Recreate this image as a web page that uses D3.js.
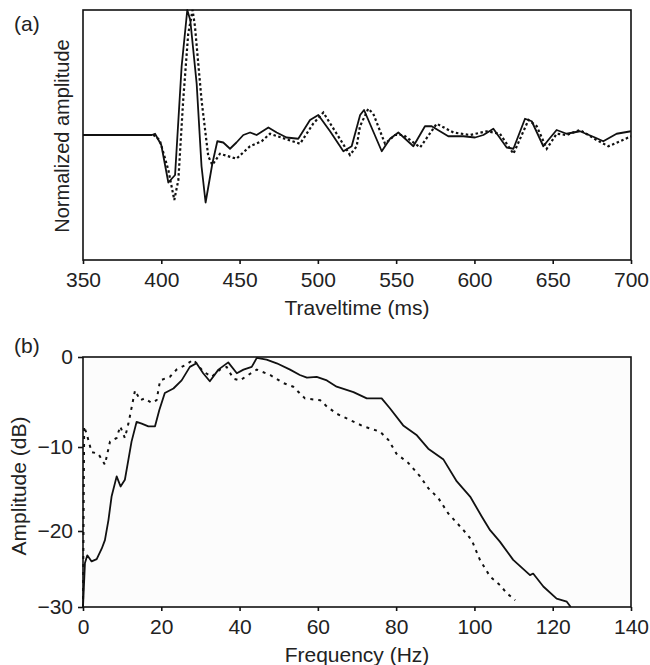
<!DOCTYPE html>
<html>
<head>
<meta charset="utf-8">
<script src="https://cdn.jsdelivr.net/npm/d3@7"></script>
<style>
  body { margin: 0; background: #fff; }
  svg { display: block; font-family: "Liberation Sans", Arial, sans-serif; }
</style>
</head>
<body>
<div id="chart"></div>
<script>
// Panel (a): traveltime (ms) vs normalized amplitude
const solidTime = [350, 394, 396, 400, 404.5, 408.8, 413, 416.6, 418.5, 422.6, 425.7, 428.3, 432.6, 435.8, 439.6, 443.9, 448, 452.4, 456.7, 460.9, 468.4, 473.7, 480, 487.5, 495, 500.3, 507.8, 516.3, 521.6, 527, 529.5, 540.8, 546.1, 551.4, 561, 568.4, 572.7, 583.3, 592.9, 600.4, 605.7, 612.1, 620.6, 624.9, 632.3, 636.6, 644, 647.2, 652.5, 658.9, 667.4, 677, 682.3, 690.8, 700];
const solidAmp  = [0, 0, 0.01, -0.08, -0.38, -0.32, 0.55, 1.0, 0.92, 0.41, -0.25, -0.54, -0.23, -0.05, -0.06, -0.11, -0.06, 0, 0.02, 0, 0.06, 0.02, -0.02, -0.03, 0.12, 0.16, 0.03, -0.13, -0.09, 0.16, 0.2, -0.13, -0.03, 0.02, -0.09, 0.07, 0.07, -0.01, -0.01, -0.02, 0, 0.05, -0.1, -0.11, 0.13, 0.11, -0.09, -0.04, 0.04, 0.01, 0.03, -0.02, -0.05, 0.01, 0.03];

const dottedTime = [350, 395, 399, 404.5, 408.3, 410.9, 414, 417.2, 420, 421.5, 425.7, 430, 432.6, 437.5, 448, 456.7, 464.1, 469.4, 479, 488.6, 497, 503.5, 512, 520.5, 524.8, 526.9, 532.2, 535.4, 542.9, 549.3, 554.6, 565.3, 575.9, 586.6, 597.2, 607.8, 616.3, 624.9, 634.5, 639.8, 646.2, 652.5, 658.9, 667.4, 678, 685.5, 693, 700];
const dottedAmp  = [0, 0, -0.04, -0.28, -0.52, -0.36, 0.28, 0.81, 1.0, 0.87, 0.28, -0.17, -0.24, -0.15, -0.19, -0.09, -0.05, 0.01, -0.03, -0.07, 0.09, 0.18, 0.01, -0.16, -0.09, 0.07, 0.21, 0.17, -0.07, 0, 0, -0.1, 0.09, 0.02, 0, 0.03, 0.01, -0.15, 0.12, 0.07, -0.11, 0.01, 0, 0.04, -0.04, -0.09, -0.05, -0.01];

const timeTicks = [350, 400, 450, 500, 550, 600, 650, 700];

// Panel (b): frequency (Hz) vs amplitude (dB)
const freqSolid = [0, 0.5, 1.1, 2.2, 3.5, 4.8, 5.6, 6.5, 7.3, 8.6, 9.6, 10.7, 11.6, 12.4, 13.7, 15, 16.7, 18.4, 19.5, 20.9, 23.1, 25.2, 27.3, 29, 30.7, 32.4, 34.6, 37.1, 39.3, 41, 43.1, 44.4, 46.9, 49.5, 52.9, 55.4, 57.2, 59.7, 62.3, 64.8, 69.1, 72.5, 76.3, 78.4, 81.8, 85.3, 88.2, 92.1, 95.5, 98.9, 101.9, 104, 106.5, 109.9, 114.2, 115, 117.6, 121, 123.6, 124.6];
const dbSolid   = [-30, -24.2, -23.2, -24, -23.7, -22.3, -21.2, -18.7, -15.9, -13.5, -14.7, -13.9, -11.5, -9.4, -7.2, -7.4, -7.7, -7.7, -5.9, -4, -3.5, -2.6, -1.1, -0.7, -1.8, -2.7, -1.4, -0.6, -1.8, -1.4, -1.1, -0.1, -0.3, -0.7, -1.4, -2.0, -2.3, -2.2, -2.6, -3.3, -3.9, -4.6, -4.6, -5.7, -7.6, -8.7, -10.2, -11.5, -14.1, -15.9, -18.3, -19.9, -21.4, -23.8, -25.8, -25.6, -27.3, -28.9, -29.3, -30];

const freqDotted = [0, 0.3, 1.1, 2.2, 3.9, 5.6, 6.9, 8.6, 9.5, 10.7, 11.6, 13.3, 14.6, 15.8, 17.5, 18.8, 19.7, 22.2, 23.9, 26.1, 28.2, 30.7, 32.9, 35, 36.7, 38.4, 40.1, 42.2, 44.4, 47.8, 51.2, 53.7, 56.7, 60.6, 62.3, 64.8, 68.2, 71.6, 75.9, 78, 80.1, 83.1, 86.1, 88.2, 90.8, 93.3, 97.2, 99.3, 101.4, 104, 106.5, 108.3, 110.4];
const dbDotted   = [-30, -7.7, -8.8, -10.6, -10.8, -12.1, -9.4, -9.0, -7.7, -9.0, -7.4, -3.7, -4.8, -4.6, -5.1, -4.8, -2.6, -2.2, -1.4, -0.9, -0.3, -1.6, -2.2, -1.4, -1.1, -2.4, -2.6, -2.0, -1.4, -2.0, -2.9, -3.3, -4.6, -4.8, -5.5, -6.3, -7.0, -7.7, -8.3, -9.2, -10.8, -11.9, -13.5, -14.9, -16.1, -17.9, -19.9, -21.2, -23.8, -26.0, -27.1, -28.2, -29.1];

const freqTicks = [0, 20, 40, 60, 80, 100, 120, 140];
const dbTicks = [0, -10, -20, -30];

const W = 650, H = 665;
const svg = d3.select('#chart').append('svg')
    .attr('width', W)
    .attr('height', H);

const left = 83, right = 631;
const fontSize = 21;

// ---- panel (a) ----
const topA = 10, botA = 260;

const xA = d3.scaleLinear().domain([350, 700]).range([left, right]);
const yA = d3.scaleLinear().domain([-1, 1]).range([botA, topA]);

const gA = svg.append('g');

gA.append('rect')
    .attr('x', left).attr('y', topA)
    .attr('width', right - left).attr('height', botA - topA)
    .attr('fill', '#fff');

const lineA = (xs, ys) => d3.line()
    .x((d, i) => xA(xs[i]))
    .y(d => yA(d))(ys);

gA.append('path')
    .attr('d', lineA(dottedTime, dottedAmp))
    .attr('fill', 'none')
    .attr('stroke', '#111')
    .attr('stroke-width', 2.2)
    .attr('stroke-dasharray', '2.5,2.5');

gA.append('path')
    .attr('d', lineA(solidTime, solidAmp))
    .attr('fill', 'none')
    .attr('stroke', '#111')
    .attr('stroke-width', 1.8)
    .attr('stroke-linejoin', 'round');

gA.append('rect')
    .attr('x', left).attr('y', topA)
    .attr('width', right - left).attr('height', botA - topA)
    .attr('fill', 'none')
    .attr('stroke', '#111')
    .attr('stroke-width', 1.6);

const axA = gA.append('g')
    .attr('transform', `translate(0,${botA})`)
    .call(d3.axisBottom(xA).tickValues(timeTicks).tickSize(4).tickSizeOuter(0).tickPadding(8));
axA.select('.domain').remove();
axA.selectAll('line').attr('stroke', '#111').attr('stroke-width', 1.6);
axA.selectAll('text').attr('font-size', fontSize).attr('fill', '#222')
    .attr('font-family', '"Liberation Sans", Arial, sans-serif');

gA.append('text')
    .attr('x', (left + right) / 2).attr('y', 315)
    .attr('text-anchor', 'middle')
    .attr('font-size', fontSize).attr('fill', '#222')
    .text('Traveltime (ms)');

gA.append('text')
    .attr('transform', `translate(69,${(topA + botA) / 2 + 1}) rotate(-90)`)
    .attr('text-anchor', 'middle')
    .attr('font-size', 20).attr('fill', '#222')
    .text('Normalized amplitude');

gA.append('text')
    .attr('x', 14).attr('y', 31)
    .attr('font-size', fontSize).attr('fill', '#222')
    .text('(a)');

// ---- panel (b) ----
const topB = 357, botB = 607;

const xB = d3.scaleLinear().domain([0, 140]).range([left, right]);
// the printed dB axis is not evenly spaced, so map each labelled tick to its place
const yB = d3.scaleLinear().domain([-30, -20, -10, 0]).range([botB, 531, 447, topB]);

const gB = svg.append('g');

gB.append('rect')
    .attr('x', left).attr('y', topB)
    .attr('width', right - left).attr('height', botB - topB)
    .attr('fill', '#fcfcfc');

const lineB = (xs, ys) => d3.line()
    .x((d, i) => xB(xs[i]))
    .y(d => yB(d))(ys);

gB.append('path')
    .attr('d', lineB(freqDotted, dbDotted))
    .attr('fill', 'none')
    .attr('stroke', '#111')
    .attr('stroke-width', 2)
    .attr('stroke-dasharray', '3,5');

gB.append('path')
    .attr('d', lineB(freqSolid, dbSolid))
    .attr('fill', 'none')
    .attr('stroke', '#111')
    .attr('stroke-width', 1.8)
    .attr('stroke-linejoin', 'round');

gB.append('rect')
    .attr('x', left).attr('y', topB)
    .attr('width', right - left).attr('height', botB - topB)
    .attr('fill', 'none')
    .attr('stroke', '#111')
    .attr('stroke-width', 1.6);

const axBx = gB.append('g')
    .attr('transform', `translate(0,${botB})`)
    .call(d3.axisBottom(xB).tickValues(freqTicks).tickSize(4).tickSizeOuter(0).tickPadding(8));
axBx.select('.domain').remove();

const axBy = gB.append('g')
    .attr('transform', `translate(${left},0)`)
    .call(d3.axisLeft(yB).tickValues(dbTicks).tickSize(5).tickSizeOuter(0).tickPadding(5));
axBy.select('.domain').remove();

[axBx, axBy].forEach(ax => {
    ax.selectAll('line').attr('stroke', '#111').attr('stroke-width', 1.6);
    ax.selectAll('text').attr('font-size', fontSize).attr('fill', '#222')
        .attr('font-family', '"Liberation Sans", Arial, sans-serif');
});

gB.append('text')
    .attr('x', (left + right) / 2).attr('y', 662)
    .attr('text-anchor', 'middle')
    .attr('font-size', fontSize).attr('fill', '#222')
    .text('Frequency (Hz)');

gB.append('text')
    .attr('transform', `translate(26,${(topB + botB) / 2 + 4}) rotate(-90)`)
    .attr('text-anchor', 'middle')
    .attr('font-size', fontSize).attr('fill', '#222')
    .text('Amplitude (dB)');

gB.append('text')
    .attr('x', 14).attr('y', 353)
    .attr('font-size', fontSize).attr('fill', '#222')
    .text('(b)');
</script>
</body>
</html>
